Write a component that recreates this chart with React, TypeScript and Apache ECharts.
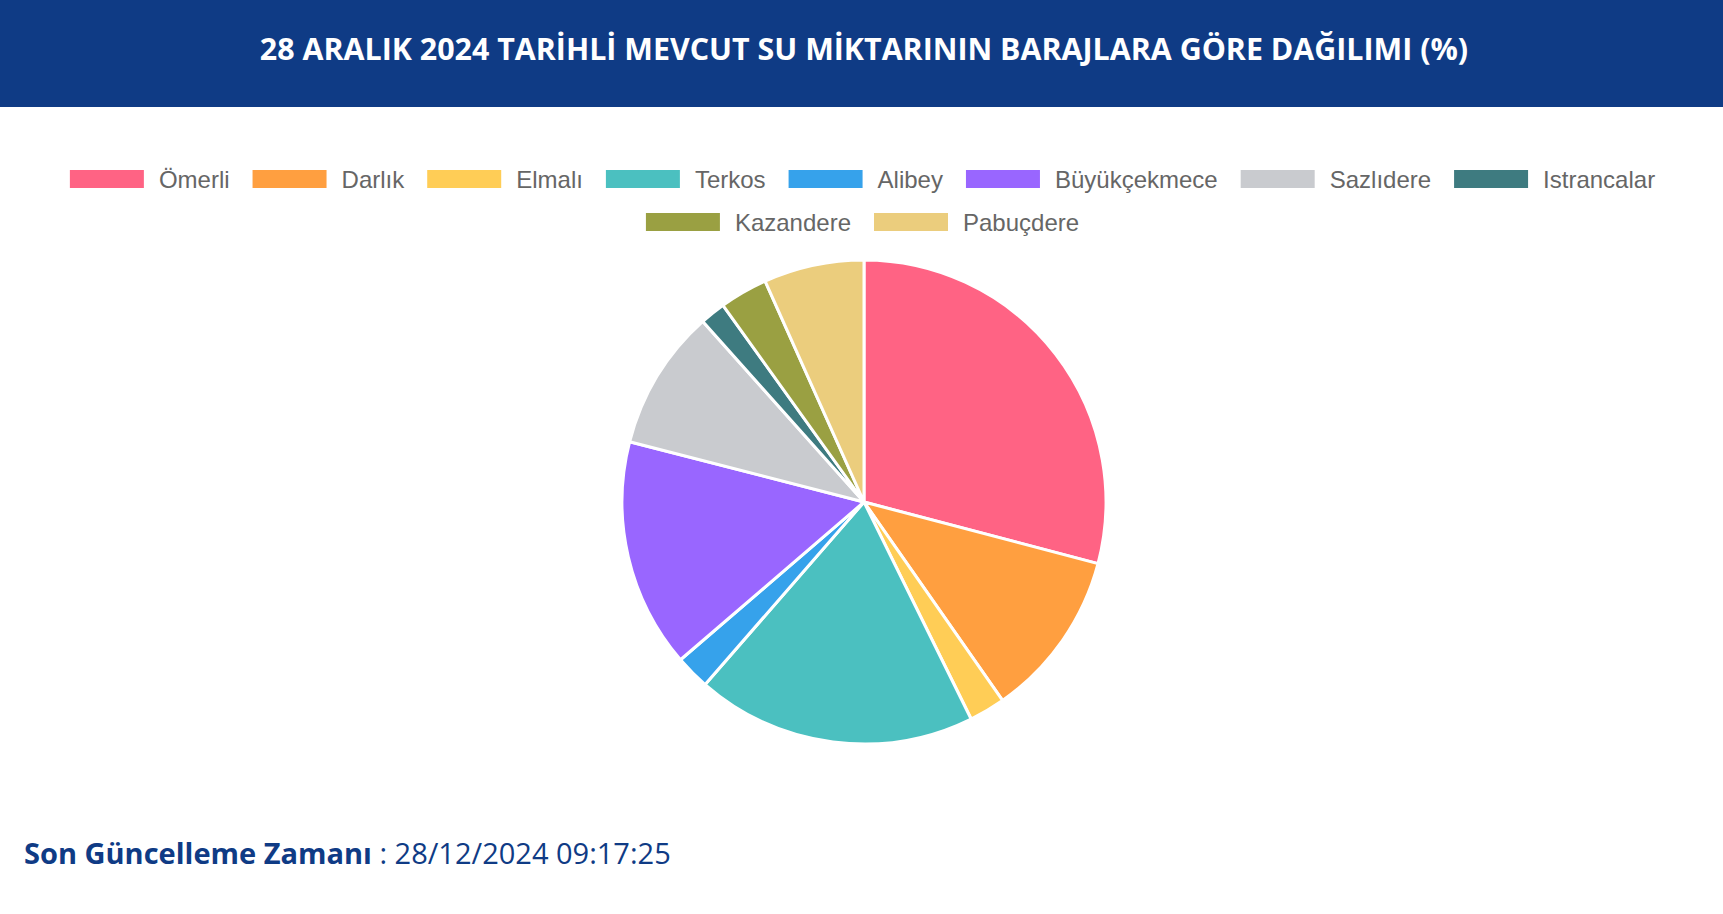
import * as echarts from "echarts";
import { useEffect, useRef } from "react";

const pageTitle = "28 ARALIK 2024 TARİHLİ MEVCUT SU MİKTARININ BARAJLARA GÖRE DAĞILIMI (%)";
const updateLabel = "Son Güncelleme Zamanı";
const updateTime = " : 28/12/2024 09:17:25";

const damNames = [
  "Ömerli",
  "Darlık",
  "Elmalı",
  "Terkos",
  "Alibey",
  "Büyükçekmece",
  "Sazlıdere",
  "Istrancalar",
  "Kazandere",
  "Pabuçdere",
];
const damShares = [29.1, 11.2, 2.4, 18.7, 2.3, 15.3, 9.4, 1.7, 3.2, 6.7];
const damColors = [
  "#ff6384",
  "#ff9f40",
  "#ffcd56",
  "#4bc0c0",
  "#36a2eb",
  "#9966ff",
  "#c9cbcf",
  "#3e7b80",
  "#9aa042",
  "#ebcd7d",
];

const navy = "#0f3b85";

export default function App() {
  const chartRef = useRef<HTMLDivElement>(null);

  useEffect(() => {
    if (!chartRef.current) return;
    const chart = echarts.init(chartRef.current, null, { renderer: "svg" });

    const legendText = {
      fontFamily: "Liberation Sans",
      fontSize: 24,
      lineHeight: 20,
      color: "#666666",
      padding: [0, 0, 0, 9],
    };

    const option: echarts.EChartsOption = {
      animation: false,
      color: damColors,
      legend: [
        {
          data: damNames.slice(0, 8),
          left: "center",
          top: 167,
          padding: 0,
          itemWidth: 76,
          itemHeight: 20,
          itemGap: 21,
          icon: "rect",
          textStyle: legendText,
        },
        {
          data: damNames.slice(8),
          left: "center",
          top: 210,
          padding: 0,
          itemWidth: 76,
          itemHeight: 20,
          itemGap: 21,
          icon: "rect",
          textStyle: legendText,
        },
      ],
      graphic: [
        {
          type: "rect",
          left: 0,
          top: 0,
          shape: { width: 1723, height: 107 },
          style: { fill: navy },
          silent: true,
        },
        {
          type: "text",
          x: 864,
          y: 48,
          style: {
            text: pageTitle,
            fill: "#ffffff",
            fontFamily: "Open Sans",
            fontWeight: "bold",
            fontSize: 30.4,
            align: "center",
            verticalAlign: "middle",
          },
        },
        {
          type: "text",
          x: 24,
          y: 852,
          style: {
            text: `{b|${updateLabel}}{r|${updateTime}}`,
            verticalAlign: "middle",
            rich: {
              b: {
                fill: navy,
                fontFamily: "Open Sans",
                fontWeight: "bold",
                fontSize: 29,
              },
              r: {
                fill: navy,
                fontFamily: "Open Sans",
                fontSize: 29,
              },
            },
          },
        },
      ],
      series: [
        {
          type: "pie",
          center: [864, 502],
          radius: 242,
          startAngle: 90,
          clockwise: true,
          label: { show: false },
          labelLine: { show: false },
          emphasis: { disabled: true },
          itemStyle: { borderColor: "#ffffff", borderWidth: 3 },
          data: damNames.map((name, i) => ({ name, value: damShares[i] })),
        },
      ],
    };

    chart.setOption(option);
    return () => chart.dispose();
  }, []);

  return (
    <div
      ref={chartRef}
      style={{ position: "fixed", left: 0, top: 0, width: "1723px", height: "914px", background: "#ffffff" }}
    />
  );
}
